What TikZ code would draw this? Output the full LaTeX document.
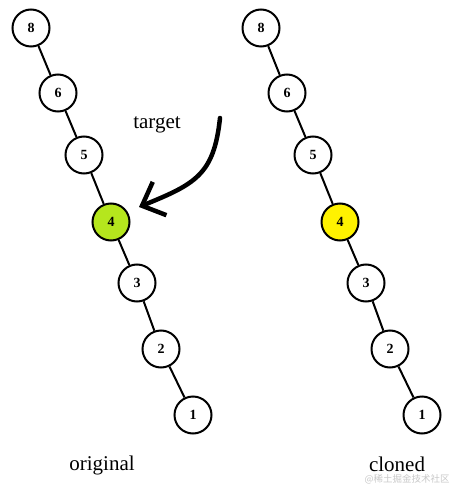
\documentclass[tikz,border=0pt]{standalone}
\usepackage{fontspec}
\setmainfont{Liberation Serif}
\newfontfamily\cjk{Noto Sans CJK SC}
\usetikzlibrary{arrows.meta}
\definecolor{limegreen}{HTML}{B5E61D}
\definecolor{brightyellow}{HTML}{FFF200}
\definecolor{wmgray}{HTML}{C8C8C8}
\begin{document}
\begin{tikzpicture}[x=1pt,y=-1pt,
  tnode/.style={circle,draw=black,line width=2pt,fill=white,minimum size=37pt,inner sep=0pt,font=\fontsize{14}{14}\selectfont\bfseries},
  edge/.style={line width=2pt},
  lbl/.style={font=\fontsize{21}{21}\selectfont}]
\useasboundingbox (0,0) rectangle (453,486);
% original tree
\node[tnode] (a8) at (31,28) {8};
\node[tnode] (a6) at (58,93) {6};
\node[tnode] (a5) at (84,155) {5};
\node[tnode,fill=limegreen] (a4) at (111,222) {4};
\node[tnode] (a3) at (137,283) {3};
\node[tnode] (a2) at (161,349) {2};
\node[tnode] (a1) at (193,415) {1};
\draw[edge] (a8) -- (a6) (a6) -- (a5) (a5) -- (a4) (a4) -- (a3) (a3) -- (a2) (a2) -- (a1);
% cloned tree
\node[tnode] (b8) at (261,28) {8};
\node[tnode] (b6) at (287,93) {6};
\node[tnode] (b5) at (313,155) {5};
\node[tnode,fill=brightyellow] (b4) at (340,222) {4};
\node[tnode] (b3) at (366,283) {3};
\node[tnode] (b2) at (390,349) {2};
\node[tnode] (b1) at (422,415) {1};
\draw[edge] (b8) -- (b6) (b6) -- (b5) (b5) -- (b4) (b4) -- (b3) (b3) -- (b2) (b2) -- (b1);
% labels
\node[lbl] (tgt) at (157,125) {target};
\node[lbl] (orig) at (102,465) {original};
\node[lbl] (clon) at (397,464) {cloned};
\node[font=\cjk\fontsize{9.5}{9.5}\selectfont,text=wmgray] (wm) at (407,479.5) {@稀土掘金技术社区};
% arrow
\coordinate (astart) at (220,118);
\coordinate (atip) at (139,207);
\draw[line width=4.5pt,line cap=round,-{Straight Barb[length=19pt,width=36pt,line width=4.5pt]}]
  (astart) .. controls (214,175) and (195,184) .. (atip);
\end{tikzpicture}
\end{document}
